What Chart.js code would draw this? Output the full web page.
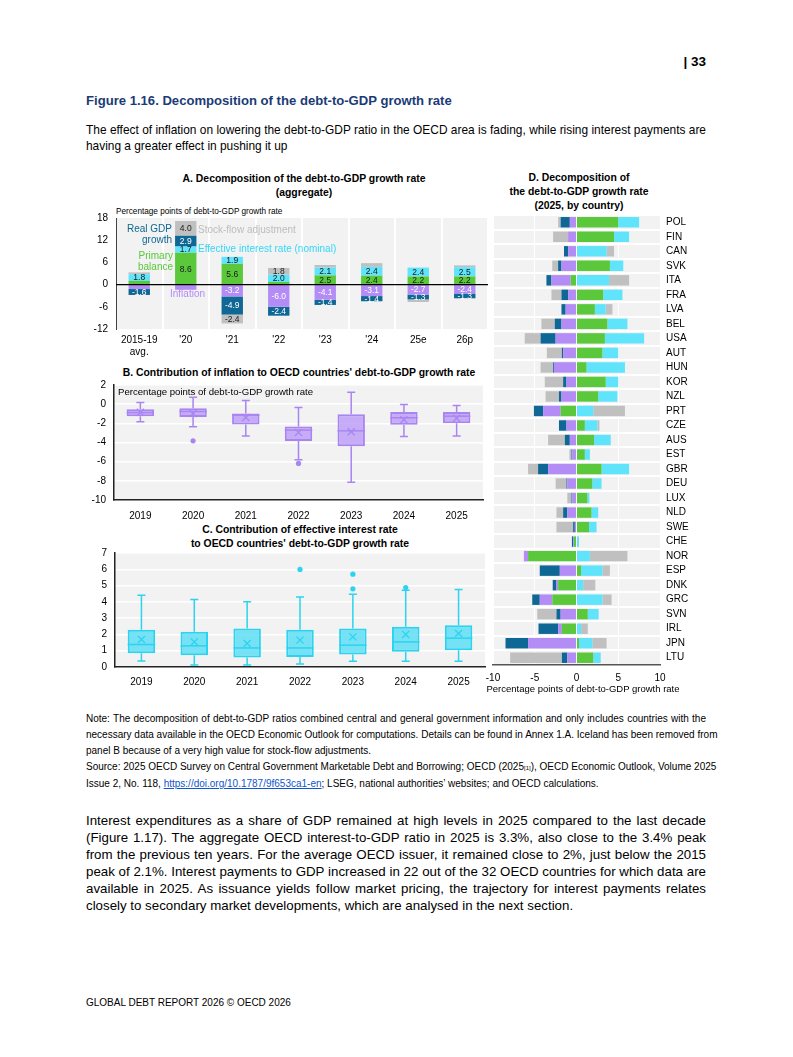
<!DOCTYPE html>
<html>
<head>
<meta charset="utf-8">
<script src="https://cdn.jsdelivr.net/npm/chart.js@4.4.1/dist/chart.umd.min.js"></script>
<style>
  html, body { margin: 0; padding: 0; background: #fff; }
  body { width: 793px; height: 1057px; position: relative; overflow: hidden;
         font-family: 'Liberation Sans Narrow', 'Arial Narrow', sans-serif; color: #000; }
  .t { position: absolute; white-space: nowrap; }
  .c { position: absolute; }
  .mid { transform: translateY(-50%); }
  .ctr { transform: translate(-50%, -50%); text-align: center; }
  .ptitle { font-weight: bold; font-size: 10.4px; line-height: 14px; }
  .jl { text-align: justify; text-align-last: justify; white-space: nowrap; }
  .ann { font-size: 10px; line-height: 11px; }
  a { color: #1155cc; }
</style>
</head>
<body>

<div class="t mid" style="right:87px; top:61px; font-weight:bold; font-size:13.5px;">| 33</div>
<div class="t mid" style="left:86px; top:100px; font-weight:bold; font-size:13.1px; color:#1b3b76;">Figure 1.16. Decomposition of the debt-to-GDP growth rate</div>
<div class="t" style="left:86px; top:122px; width:620px; font-size:11.9px; line-height:16px;">
  <div class="jl">The effect of inflation on lowering the debt-to-GDP ratio in the OECD area is fading, while rising interest payments are</div>
  <div>having a greater effect in pushing it up</div>
</div>

<!-- panel titles -->
<div class="t ctr ptitle" style="left:304px; top:186px;">A. Decomposition of the debt-to-GDP growth rate<br>(aggregate)</div>
<div class="t mid" style="left:116px; top:211px; font-size:8.2px;">Percentage points of debt-to-GDP growth rate</div>
<div class="t ctr ptitle" style="left:299px; top:373px;">B. Contribution of inflation to OECD countries' debt-to-GDP growth rate</div>
<div class="t ctr ptitle" style="left:300px; top:537px;">C. Contribution of effective interest rate<br>to OECD countries' debt-to-GDP growth rate</div>
<div class="t ctr ptitle" style="left:579px; top:192px;">D. Decomposition of<br>the debt-to-GDP growth rate<br>(2025, by country)</div>

<div class="c" style="left:86px; top:212px; width:406px; height:148px;"><canvas id="chartA"></canvas></div>
<div class="c" style="left:84px; top:380px; width:404px; height:145px;"><canvas id="chartB"></canvas></div>
<div class="c" style="left:85px; top:548px; width:404px; height:145px;"><canvas id="chartC"></canvas></div>
<div class="c" style="left:470px; top:210px; width:235px; height:490px;"><canvas id="chartD"></canvas></div>

<!-- panel A annotations -->
<div class="t ann" style="right:621px; top:223px; text-align:right; color:#0e6794;">Real GDP<br>growth</div>
<div class="t ann" style="right:620px; top:250px; text-align:right; color:#5ac83a;">Primary<br>balance</div>
<div class="t ann mid" style="left:198px; top:229px; color:#bdbdbd;">Stock-flow adjustment</div>
<div class="t ann mid" style="left:198px; top:248px; color:#33d8f5;">Effective interest rate (nominal)</div>
<div class="t ann mid" style="left:170px; top:293px; color:#b48cf5;">Inflation</div>

<div class="t mid" style="left:118px; top:391px; font-size:9.6px;">Percentage points of debt-to-GDP growth rate</div>
<div class="t ctr" style="left:583px; top:688px; font-size:9.5px;">Percentage points of debt-to-GDP growth rate</div>

<div class="t" style="left:86px; top:711px; width:620px; font-size:10px; line-height:16px;">
  <div class="jl">Note: The decomposition of debt-to-GDP ratios combined central and general government information and only includes countries with the</div>
  <div class="jl">necessary data available in the OECD Economic Outlook for computations. Details can be found in Annex 1.A. Iceland has been removed from</div>
  <div>panel B because of a very high value for stock-flow adjustments.</div>
  <div class="jl">Source: 2025 OECD Survey on Central Government Marketable Debt and Borrowing; OECD (2025<span style="font-size:6px;">[1]</span>), OECD Economic Outlook, Volume 2025</div>
  <div>Issue 2, No. 118, <a href="#">https://doi.org/10.1787/9f653ca1-en</a>; LSEG, national authorities’ websites; and OECD calculations.</div>
</div>

<div class="t" style="left:86px; top:811.5px; width:620px; font-family:'Liberation Sans', Arial, sans-serif; font-size:13.3px; line-height:17px;">
  <div class="jl">Interest expenditures as a share of GDP remained at high levels in 2025 compared to the last decade</div>
  <div class="jl">(Figure 1.17). The aggregate OECD interest-to-GDP ratio in 2025 is 3.3%, also close to the 3.4% peak</div>
  <div class="jl">from the previous ten years. For the average OECD issuer, it remained close to 2%, just below the 2015</div>
  <div class="jl">peak of 2.1%. Interest payments to GDP increased in 22 out of the 32 OECD countries for which data are</div>
  <div class="jl">available in 2025. As issuance yields follow market pricing, the trajectory for interest payments relates</div>
  <div>closely to secondary market developments, which are analysed in the next section.</div>
</div>

<div class="t mid" style="left:86px; top:1002px; font-size:10px;">GLOBAL DEBT REPORT 2026 © OECD 2026</div>

<script>
// ---- Panel A: aggregate decomposition ----
const catsA = [['2015-19', 'avg.'], "'20", "'21", "'22", "'23", "'24", '25e', '26p'];
const primaryA   = [1.0, 8.6, 5.6, 0.7, 2.5, 2.4, 2.2, 2.2];
const interestA  = [1.8, 1.7, 1.9, 2.0, 2.1, 2.4, 2.4, 2.5];
const inflationA = [-1.2, -1.4, -3.2, -6.0, -4.1, -3.1, -2.7, -2.4];
const growthA    = [-1.6, 2.9, -4.9, -2.4, -1.4, -1.4, -1.3, -1.3];
const sfaA       = [0.5, 4.0, -2.4, 1.8, 0.7, 1.0, -0.7, 0.5];

// ---- Panel B: inflation contribution, box plots ----
const yearsBC = ['2019', '2020', '2021', '2022', '2023', '2024', '2025'];
const minB  = [-1.84, -2.36, -3.33, -5.8, -8.16, -3.37, -3.33];
const q1B   = [-1.25, -1.35, -2.12, -3.85, -4.38, -2.15, -1.98];
const medB  = [-0.87, -0.76, -1.15, -2.7, -2.78, -1.42, -1.25];
const q3B   = [-0.52, -0.42, -0.97, -2.33, -1.04, -0.83, -0.83];
const maxB  = [0.17, 0.73, 0.38, -0.35, 1.25, -0.03, -0.14];
const meanB = [-0.85, -0.97, -1.39, -2.95, -2.88, -1.63, -1.46];
const outliersB = [{ x: '2020', y: -3.82 }, { x: '2022', y: -6.18 }];

// ---- Panel C: effective interest rate contribution, box plots ----
const minC  = [0.37, 0.12, 0.12, 0.19, 0.35, 0.35, 0.35];
const q1C   = [0.84, 0.72, 0.58, 0.62, 0.76, 0.93, 1.03];
const medC  = [1.38, 1.3, 1.17, 1.17, 1.34, 1.54, 1.77];
const q3C   = [2.28, 2.16, 2.37, 2.28, 2.37, 2.47, 2.57];
const maxC  = [4.4, 4.14, 4.01, 4.3, 4.47, 4.71, 4.76];
const meanC = [1.69, 1.54, 1.44, 1.65, 1.85, 2.0, 2.06];
const outliersC = [{ x: '2022', y: 5.99 }, { x: '2023', y: 5.7 }, { x: '2023', y: 4.8 }, { x: '2024', y: 4.88 }];

// ---- Panel D: 2025 by country ----
const countriesD = ['POL', 'FIN', 'CAN', 'SVK', 'ITA', 'FRA', 'LVA', 'BEL', 'USA', 'AUT', 'HUN', 'KOR', 'NZL', 'PRT', 'CZE', 'AUS',
  'EST', 'GBR', 'DEU', 'LUX', 'NLD', 'SWE', 'CHE', 'NOR', 'ESP', 'DNK', 'GRC', 'SVN', 'IRL', 'JPN', 'LTU'];
const primaryD   = [5.0, 4.5, 0, 4.0, -0.7, 3.2, 2.2, 3.7, 3.4, 3.1, 1.2, 3.5, 2.6, -1.9, 1.0, 2.1,
  1.0, 3.0, 1.9, 1.3, 1.8, 1.5, -0.3, -5.8, 0.55, -2.2, -2.9, 1.35, -1.75, 0.3, 2.0];
const interestD  = [2.5, 1.8, 3.6, 1.6, 3.9, 2.3, 1.3, 2.4, 4.7, 1.9, 4.6, 1.5, 2.3, 2.0, 1.5, 2.0,
  0.6, 3.3, 1.1, 0.25, 0.8, 0.9, 0.3, 1.6, 2.55, 0.8, 3.1, 1.3, 0.55, 1.6, 0.9];
const inflationD = [-0.8, -1.0, -1.0, -1.8, -2.3, -1.0, -1.3, -1.8, -2.5, -1.6, -2.7, -1.2, -1.8, -2.1, -1.2, -0.8,
  -0.5, -3.4, -1.1, -0.5, -1.1, -0.2, -0.1, -0.5, -2.0, -0.2, -1.5, -1.9, -0.45, -5.8, -1.1];
const growthD    = [-1.1, 0, -0.5, -0.4, -0.6, -0.8, -0.5, -0.8, -1.8, -0.15, -0.1, -0.4, -0.3, -1.1, -0.9, -0.6,
  -0.1, -1.2, -0.1, -0.1, -0.5, -0.2, -0.15, 0, -2.4, -0.45, -0.9, -0.5, -2.35, -2.7, -0.65];
const sfaD       = [-0.3, -1.8, 0.9, -0.7, 2.4, -1.2, 0.8, -1.6, -1.9, -1.8, -1.5, -2.2, -1.6, 3.8, 0.25, -2.0,
  -0.25, -1.2, -1.3, -0.5, -0.8, -2.0, 0, 4.5, 0.9, 1.45, 1.1, -2.3, 0.8, 1.7, -6.2];

const GREEN = '#5ac83a', CYAN = '#5fe4fb', PURPLE = '#b48cf5', BLUE = '#0e6794', GREY = '#c0c0c0';
const NARROW = "'Liberation Sans Narrow', 'Arial Narrow', sans-serif";

Chart.defaults.font.family = NARROW;
Chart.defaults.color = '#000';
Chart.defaults.animation = false;

// fixed axis sizes, no extra padding for the end labels
function fixWidth(w) {
  return s => { s.width = w; s.paddingTop = 0; s.paddingBottom = 0; };
}
function fixHeight(h) {
  return s => { s.height = h; s.paddingLeft = 0; s.paddingRight = 0; };
}

// light grey plotting area
const areaBg = {
  id: 'areaBg',
  beforeDraw(chart, args, opts) {
    const a = chart.chartArea, ctx = chart.ctx;
    ctx.save();
    ctx.fillStyle = opts.color || '#f2f2f2';
    ctx.fillRect(a.left, a.top, a.right - a.left, a.bottom - a.top);
    ctx.restore();
  }
};

// black line at zero
const zeroLine = {
  id: 'zeroLine',
  afterDatasetsDraw(chart) {
    const y = chart.scales.y.getPixelForValue(0), a = chart.chartArea, ctx = chart.ctx;
    ctx.save();
    ctx.strokeStyle = '#000';
    ctx.lineWidth = 1.2;
    ctx.beginPath(); ctx.moveTo(a.left, y); ctx.lineTo(a.right, y); ctx.stroke();
    ctx.restore();
  }
};

// values written in the stacked segments
const segLabels = {
  id: 'segLabels',
  afterDatasetsDraw(chart, args, opts) {
    const ctx = chart.ctx;
    ctx.save();
    ctx.font = opts.size + 'px ' + NARROW;
    ctx.textAlign = 'center';
    ctx.textBaseline = 'middle';
    chart.data.datasets.forEach((ds, di) => {
      chart.getDatasetMeta(di).data.forEach((bar, i) => {
        const v = ds.data[i];
        if (Math.abs(v) < opts.min) return;
        if (ds.skipLabels && ds.skipLabels.includes(i)) return;
        ctx.fillStyle = ds.labelColor;
        ctx.fillText(v.toFixed(1), bar.x, (bar.y + bar.base) / 2 + 0.5);
      });
    });
    ctx.restore();
  }
};

// whiskers and medians for the box plots
const boxParts = {
  id: 'boxParts',
  beforeDatasetsDraw(chart, args, opts) {
    const ctx = chart.ctx, y = chart.scales.y, bars = chart.getDatasetMeta(0).data;
    ctx.save();
    ctx.strokeStyle = opts.color;
    ctx.lineWidth = 1.5;
    bars.forEach((bar, i) => {
      const yMin = y.getPixelForValue(opts.min[i]), yMax = y.getPixelForValue(opts.max[i]);
      const yLo = y.getPixelForValue(opts.q1[i]), yHi = y.getPixelForValue(opts.q3[i]);
      ctx.beginPath();
      ctx.moveTo(bar.x, yMax); ctx.lineTo(bar.x, yHi);
      ctx.moveTo(bar.x, yLo); ctx.lineTo(bar.x, yMin);
      ctx.moveTo(bar.x - 4, yMax); ctx.lineTo(bar.x + 4, yMax);
      ctx.moveTo(bar.x - 4, yMin); ctx.lineTo(bar.x + 4, yMin);
      ctx.stroke();
    });
    ctx.restore();
  },
  afterDatasetsDraw(chart, args, opts) {
    const ctx = chart.ctx, y = chart.scales.y, bars = chart.getDatasetMeta(0).data;
    ctx.save();
    ctx.strokeStyle = opts.color;
    ctx.lineWidth = 1.5;
    bars.forEach((bar, i) => {
      const ym = y.getPixelForValue(opts.median[i]);
      ctx.beginPath();
      ctx.moveTo(bar.x - bar.width / 2, ym); ctx.lineTo(bar.x + bar.width / 2, ym);
      ctx.stroke();
    });
    ctx.restore();
  }
};

// Panel A
new Chart(document.getElementById('chartA'), {
  type: 'bar',
  data: {
    labels: catsA,
    datasets: [
      { label: 'Primary balance', data: primaryA, backgroundColor: GREEN, labelColor: '#1a1a1a' },
      { label: 'Effective interest rate (nominal)', data: interestA, backgroundColor: CYAN, labelColor: '#1a1a1a' },
      { label: 'Inflation', data: inflationA, backgroundColor: PURPLE, labelColor: '#fff', skipLabels: [1] },
      { label: 'Real GDP growth', data: growthA, backgroundColor: BLUE, labelColor: '#fff' },
      { label: 'Stock-flow adjustment', data: sfaA, backgroundColor: GREY, labelColor: '#1a1a1a' }
    ]
  },
  options: {
    responsive: true,
    maintainAspectRatio: false,
    layout: { autoPadding: false, padding: { left: 0, right: 4, top: 6, bottom: 0 } },
    datasets: { bar: { barPercentage: 0.46, categoryPercentage: 1 } },
    scales: {
      x: {
        stacked: true,
        grid: { color: '#fff', lineWidth: 2, offset: true, drawTicks: false },
        border: { display: false },
        ticks: { font: { size: 10 }, padding: 5, maxRotation: 0, autoSkip: false },
        afterFit: fixHeight(31)
      },
      y: {
        stacked: true, min: -12, max: 18,
        ticks: { stepSize: 6, font: { size: 10 }, padding: 8, autoSkip: false },
        grid: { display: false, drawTicks: false },
        border: { display: true, color: '#444', width: 1 },
        afterFit: fixWidth(30)
      }
    },
    plugins: {
      legend: { display: false },
      tooltip: { enabled: false },
      areaBg: { color: '#f2f2f2' },
      segLabels: { size: 8.5, min: 1.25 }
    }
  },
  plugins: [areaBg, zeroLine, segLabels]
});

function boxChart(id, q1, q3, mean, outliers, min, max, median, yMin, yMax, step, fill, line, pad) {
  return new Chart(document.getElementById(id), {
    type: 'bar',
    data: {
      labels: yearsBC,
      datasets: [
        { type: 'bar', data: q1.map((v, i) => [v, q3[i]]), backgroundColor: fill, borderColor: line,
          borderWidth: 2, borderSkipped: false, barPercentage: 0.52, categoryPercentage: 1, order: 3 },
        { type: 'line', data: mean, showLine: false, pointStyle: 'crossRot', pointRadius: 5,
          pointBorderWidth: 1.3, borderColor: line, backgroundColor: line, order: 1 },
        { type: 'line', data: outliers, showLine: false, pointStyle: 'circle', pointRadius: 2.6,
          pointBorderWidth: 0, backgroundColor: line, borderColor: line, order: 2 }
      ]
    },
    options: {
      responsive: true,
      maintainAspectRatio: false,
      layout: { autoPadding: false, padding: { left: 0, right: pad.right, top: 5, bottom: 0 } },
      scales: {
        x: {
          grid: { display: false, drawTicks: false },
          border: { display: true, color: '#222', width: 1.5 },
          ticks: { font: { size: 10 }, padding: pad.tick },
          afterFit: fixHeight(pad.xh)
        },
        y: {
          min: yMin, max: yMax,
          ticks: { stepSize: step, font: { size: 10 }, padding: 8, autoSkip: false },
          grid: { color: '#fff', lineWidth: 1.5, drawTicks: false },
          border: { display: true, color: '#222', width: 1.5 },
          afterFit: fixWidth(30)
        }
      },
      plugins: {
        legend: { display: false },
        tooltip: { enabled: false },
        areaBg: { color: '#f2f2f2' },
        boxParts: { min: min, max: max, median: median, q1: q1, q3: q3, color: line }
      }
    },
    plugins: [areaBg, boxParts]
  });
}

boxChart('chartB', q1B, q3B, meanB, outliersB, minB, maxB, medB, -10, 2, 2,
  'rgba(190, 160, 248, 0.85)', '#a985f2', { right: 5, tick: 10, xh: 25 });
boxChart('chartC', q1C, q3C, meanC, outliersC, minC, maxC, medC, 0, 7, 1,
  'rgba(95, 222, 244, 0.85)', '#2cd3f0', { right: 4, tick: 9, xh: 26 });

// Panel D
new Chart(document.getElementById('chartD'), {
  type: 'bar',
  data: {
    labels: countriesD,
    datasets: [
      { label: 'Primary balance', data: primaryD, backgroundColor: GREEN },
      { label: 'Effective interest rate (nominal)', data: interestD, backgroundColor: CYAN },
      { label: 'Inflation', data: inflationD, backgroundColor: PURPLE },
      { label: 'Real GDP growth', data: growthD, backgroundColor: BLUE },
      { label: 'Stock-flow adjustment', data: sfaD, backgroundColor: GREY }
    ]
  },
  options: {
    indexAxis: 'y',
    responsive: true,
    maintainAspectRatio: false,
    layout: { autoPadding: false, padding: { left: 23, right: 0, top: 5, bottom: 0 } },
    datasets: { bar: { barPercentage: 0.72, categoryPercentage: 1 } },
    scales: {
      x: {
        stacked: true, min: -10, max: 10,
        ticks: { stepSize: 5, font: { size: 10 }, padding: 7 },
        grid: { color: '#fff', lineWidth: 1, drawTicks: false },
        border: { display: true, color: '#555', width: 1.5 },
        afterFit: fixHeight(35)
      },
      y: {
        stacked: true, position: 'right',
        ticks: { font: { size: 10 }, padding: 6, autoSkip: false },
        grid: { color: '#fff', lineWidth: 2, offset: true, drawTicks: false },
        border: { display: false },
        afterFit: fixWidth(45)
      }
    },
    plugins: {
      legend: { display: false },
      tooltip: { enabled: false },
      areaBg: { color: '#f2f2f2' }
    }
  },
  plugins: [areaBg]
});
</script>
</body>
</html>
